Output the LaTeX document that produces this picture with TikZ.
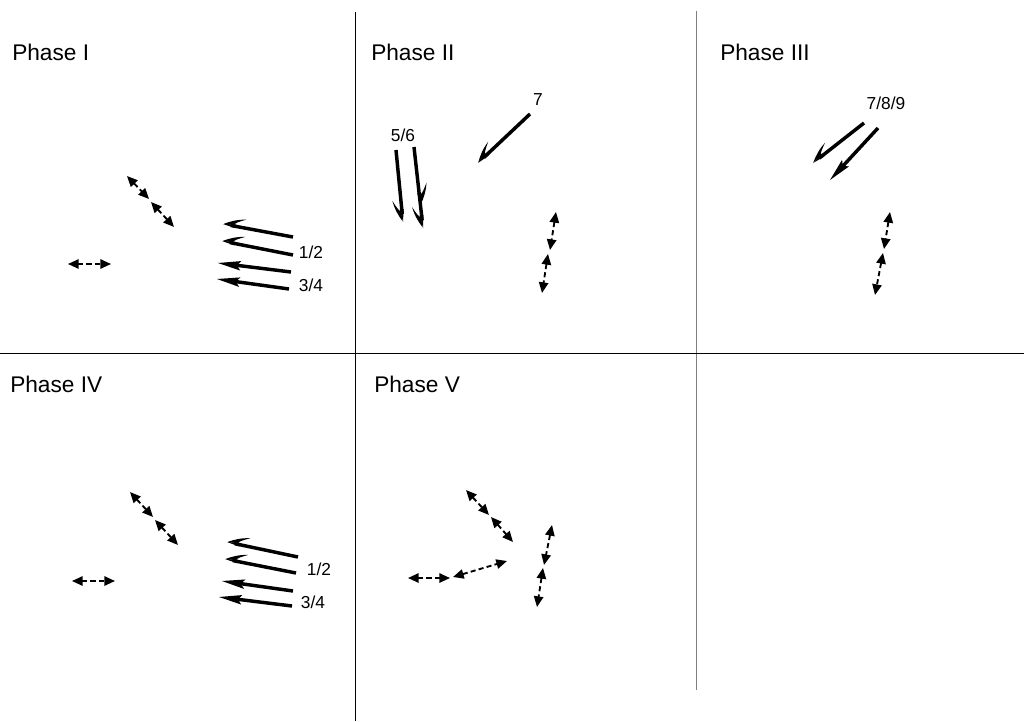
\documentclass[tikz,border=0pt]{standalone}
\usepackage{fontspec}
\setmainfont{Liberation Sans}
\usetikzlibrary{arrows.meta,calc}
\tikzset{
  x=0.75pt, y=-0.75pt,
  frame/.style={line width=0.6pt},
  shaft/.style={line width=2.6pt, line cap=butt},
  slip/.style={shaft, shorten >=6pt},
  thrust/.style={shaft, shorten >=13pt},
  axis/.style={line width=1.4pt, dash pattern=on 3.8pt off 2.4pt,
    {Triangle[length=8pt,width=7pt]}-{Triangle[length=8pt,width=7pt]}},
  phase/.style={anchor=base west, font=\fontsize{17}{19}\selectfont, inner sep=0pt},
  tag/.style={font=\fontsize{13}{15}\selectfont, inner sep=0pt},
  % half arrow with a curved barb (tip at origin, shaft along -x)
  pics/hook/.style={code={
    \fill (0,0) -- (-13,-1.9) -- (-13,1.9) -- cycle;
    \fill (-1,0.5) .. controls (-7,4) and (-13,7) .. (-22,8.5)
          .. controls (-15,5) and (-11,2.8) .. (-11,0.8) -- cycle;
  }},
  % full arrow head
  pics/head/.style={code={
    \fill (0,0) -- (-23,4.8) -- (-19,0) -- (-23,-4.8) -- cycle;
  }},
  tipR/.style={pos=1, sloped, allow upside down},
}
\begin{document}
\begin{tikzpicture}
\useasboundingbox (0,0) rectangle (1024,721);

% panel frame
\draw[frame] (355,12) -- (355,721);
\draw[frame, gray] (696,11) -- (696,690);
\draw[frame] (0,353) -- (1024,353);

% panel titles
\node[phase] (pI)   at (12,60)  {Phase I};
\node[phase] (pII)  at (371,60) {Phase II};
\node[phase] (pIII) at (720,60) {Phase III};
\node[phase] (pIV)  at (10,392) {Phase IV};
\node[phase] (pV)   at (374,392) {Phase V};

% ---------------- Phase I ----------------
\coordinate (a1t) at (293,237); \coordinate (a1h) at (223,224);
\coordinate (a2t) at (293,255); \coordinate (a2h) at (222,241);
\coordinate (a3t) at (291,272); \coordinate (a3h) at (218,263);
\coordinate (a4t) at (289,289); \coordinate (a4h) at (217,279);
\draw[slip] (a1t) -- (a1h) pic[tipR]{hook};
\draw[slip] (a2t) -- (a2h) pic[tipR]{hook};
\draw[thrust] (a3t) -- (a3h) pic[tipR]{head};
\draw[thrust] (a4t) -- (a4h) pic[tipR]{head};
\node[tag] (l12a) at (311,252) {1/2};
\node[tag] (l34a) at (311,285) {3/4};

\coordinate (ia1) at (127,176); \coordinate (ia2) at (149,199);
\coordinate (ia3) at (151,202); \coordinate (ia4) at (174,227);
\coordinate (ib1) at (68,264);  \coordinate (ib2) at (111,264);
\draw[axis] (ia1) -- (ia2);
\draw[axis] (ia3) -- (ia4);
\draw[axis] (ib1) -- (ib2);

% ---------------- Phase II ----------------
\coordinate (b1t) at (396,150); \coordinate (b1h) at (403,222);
\coordinate (b2t) at (414,147); \coordinate (b2h) at (423,228);
\coordinate (b3t) at (530,114); \coordinate (b3h) at (478,163);
\draw[slip] (b1t) -- (b1h) pic[tipR]{hook};
\draw[slip] (b2t) -- (b2h) pic[tipR]{hook}
  pic[pos=0.72, sloped, allow upside down, yscale=-1]{hook};
\draw[slip] (b3t) -- (b3h) pic[tipR]{hook};
\node[tag] (l56) at (403,135) {5/6};
\node[tag] (l7)  at (538,100) {7};

\coordinate (iia1) at (556,212); \coordinate (iia2) at (550,250);
\coordinate (iia3) at (548,254); \coordinate (iia4) at (542,293);
\draw[axis] (iia1) -- (iia2);
\draw[axis] (iia3) -- (iia4);

% ---------------- Phase III ----------------
\coordinate (c1t) at (864,123); \coordinate (c1h) at (813,163);
\coordinate (c2t) at (878,128); \coordinate (c2h) at (830,180);
\draw[slip] (c1t) -- (c1h) pic[tipR]{hook};
\draw[thrust] (c2t) -- (c2h) pic[tipR]{head};
\node[tag] (l789) at (886,103) {7/8/9};

\coordinate (iiia1) at (890,212); \coordinate (iiia2) at (884,249);
\coordinate (iiia3) at (883,253); \coordinate (iiia4) at (875,295);
\draw[axis] (iiia1) -- (iiia2);
\draw[axis] (iiia3) -- (iiia4);

% ---------------- Phase IV ----------------
\coordinate (e1t) at (298,557); \coordinate (e1h) at (227,542);
\coordinate (e2t) at (296,573); \coordinate (e2h) at (225,559);
\coordinate (e3t) at (293,591); \coordinate (e3h) at (222,581);
\coordinate (e4t) at (292,606); \coordinate (e4h) at (219,597);
\draw[slip] (e1t) -- (e1h) pic[tipR]{hook};
\draw[slip] (e2t) -- (e2h) pic[tipR]{hook};
\draw[thrust] (e3t) -- (e3h) pic[tipR]{head};
\draw[thrust] (e4t) -- (e4h) pic[tipR]{head};
\node[tag] (l12b) at (319,569) {1/2};
\node[tag] (l34b) at (313,602) {3/4};

\coordinate (iva1) at (130,492); \coordinate (iva2) at (153,517);
\coordinate (iva3) at (155,520); \coordinate (iva4) at (178,545);
\coordinate (ivb1) at (72,581);  \coordinate (ivb2) at (115,581);
\draw[axis] (iva1) -- (iva2);
\draw[axis] (iva3) -- (iva4);
\draw[axis] (ivb1) -- (ivb2);

% ---------------- Phase V ----------------
\coordinate (va1) at (466,490); \coordinate (va2) at (489,515);
\coordinate (va3) at (491,517); \coordinate (va4) at (513,542);
\coordinate (vb1) at (408,578); \coordinate (vb2) at (450,578);
\coordinate (vb3) at (453,577); \coordinate (vb4) at (507,561);
\coordinate (vc1) at (552,525); \coordinate (vc2) at (544,565);
\coordinate (vc3) at (543,568); \coordinate (vc4) at (537,607);
\draw[axis] (va1) -- (va2);
\draw[axis] (va3) -- (va4);
\draw[axis] (vb1) -- (vb2);
\draw[axis] (vb3) -- (vb4);
\draw[axis] (vc1) -- (vc2);
\draw[axis] (vc3) -- (vc4);
\end{tikzpicture}
\end{document}
